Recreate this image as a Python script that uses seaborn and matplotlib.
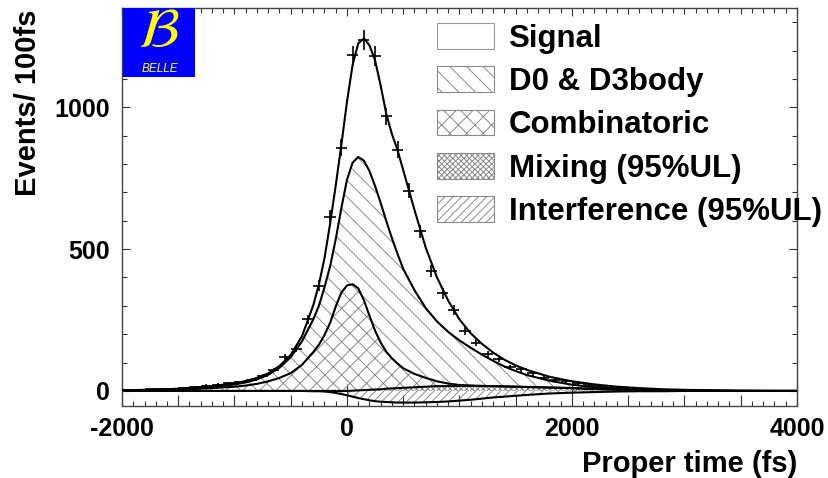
import numpy as np
import matplotlib
matplotlib.use("Agg")
import matplotlib.pyplot as plt
import seaborn as sns
from matplotlib.patches import Patch
from matplotlib.ticker import MultipleLocator, FuncFormatter

# ---------------- data ----------------
# bin centres (100 fs bins) and event counts
t_data = np.arange(-1950, 4000, 100)
n_data = [3, 4, 6, 6, 8, 10, 13, 19, 22, 27,
          31, 37, 53, 74, 119, 148, 252, 371, 614, 858,
          1183, 1238, 1180, 968, 851, 705, 563, 424, 344, 285,
          210, 170, 131, 112, 83, 77, 62, 47, 40, 35,
          27, 22, 18, 13, 10, 8, 6, 4, 3, 2,
          2, 1, 1, 1, 0, 0, 0, 0, 0, 0]

# fit curves sampled at these proper times (fs)
t_curve = [-2000, -1800, -1600, -1400, -1200, -1000, -900, -800, -700, -600,
           -500, -400, -300, -250, -200, -150, -100, -50, 0, 50,
           100, 150, 200, 250, 300, 350, 400, 450, 500, 600,
           700, 800, 900, 1000, 1100, 1200, 1300, 1400, 1500, 1600,
           1800, 2000, 2200, 2400, 2600, 2800, 3000, 3500, 4000]
total_fit = [2, 4, 6, 10, 17, 27, 35, 46, 62, 88,
             127, 193, 302, 375, 468, 590, 725, 868, 1020, 1150,
             1225, 1243, 1218, 1165, 1075, 975, 905, 848, 778, 638,
             505, 400, 318, 252, 203, 166, 135, 110, 90, 74,
             50, 34, 23, 15, 10, 6, 4, 1, 0]
d0_d3body = [1, 3, 5, 8, 14, 23, 30, 41, 57, 82,
             119, 175, 252, 300, 365, 440, 535, 645, 745, 805,
             825, 812, 775, 722, 662, 598, 538, 482, 430, 355,
             292, 245, 208, 178, 152, 128, 106, 86, 70, 56,
             36, 22, 13, 7, 4, 2, 1, 0, 0]
combinatoric = [1, 2, 4, 6, 10, 15, 19, 25, 34, 46,
                63, 92, 137, 163, 197, 240, 298, 347, 372, 376,
                362, 320, 265, 212, 170, 138, 115, 96, 80, 60,
                46, 34, 26, 21, 19, 18, 17, 16, 15, 14,
                12, 10, 7, 5, 3, 2, 1, 0, 0]
mixing = [0, 0, 0, 0, 0, 0, 0, 0, 0, 0,
          0, 0, 0, 0, 0, 0, 0, 0, 0, 1,
          2, 3, 4, 5, 6, 8, 9, 10, 11, 13,
          15, 17, 17, 18, 18, 17, 17, 16, 15, 14,
          12, 10, 7, 5, 3, 2, 1, 0, 0]
interference = [0, 0, 0, 0, 0, 0, 0, 0, 0, 0,
                0, 0, -1, -1, -2, -4, -7, -11, -15, -20,
                -25, -29, -33, -36, -38, -39, -40, -41, -41, -41,
                -40, -39, -37, -34, -31, -27, -23, -20, -17, -14,
                -9, -6, -4, -2, -1, -1, 0, 0, 0]

legend_labels = ["Signal", "D0 & D3body", "Combinatoric",
                 "Mixing (95%UL)", "Interference (95%UL)"]

# ---------------- style ----------------
sns.set_theme(style="ticks")
plt.rcParams["font.family"] = ["Liberation Sans", "DejaVu Sans"]
plt.rcParams["mathtext.fontset"] = "stix"
plt.rcParams["hatch.color"] = "#8a8a8a"
plt.rcParams["hatch.linewidth"] = 0.7
plt.rcParams["text.color"] = "black"
plt.rcParams["axes.labelcolor"] = "black"
plt.rcParams["xtick.labelcolor"] = "black"
plt.rcParams["ytick.labelcolor"] = "black"

HC = "#8a8a8a"
fig = plt.figure(figsize=(8.29, 4.78), dpi=100)
ax = fig.add_axes([122 / 829, 1 - 405.7 / 478, 675 / 829, 397.7 / 478])

t_c = np.array(t_curve, dtype=float)
tot = np.array(total_fit, float)
d0 = np.array(d0_d3body, float)
cb = np.array(combinatoric, float)
mx = np.array(mixing, float)
it = np.array(interference, float)

# hatched components
ax.fill_between(t_c, cb, d0, facecolor="none", edgecolor=HC, hatch="\\\\", linewidth=0)
ax.fill_between(t_c, 0, cb, facecolor="none", edgecolor=HC, hatch="xx", linewidth=0)
ax.fill_between(t_c, 0, mx, facecolor="none", edgecolor=HC, hatch="xxxxxx", linewidth=0)
ax.fill_between(t_c, it, 0, facecolor="none", edgecolor=HC, hatch="////", linewidth=0)

# curves
for yv in (tot, d0, cb, mx, it):
    sns.lineplot(x=t_c, y=yv, ax=ax, color="black", linewidth=1.5, legend=False,
                 sort=False, estimator=None)

# data points
nd = np.array(n_data, float)
ax.errorbar(t_data, nd, xerr=50, yerr=np.sqrt(nd), fmt="none",
            ecolor="black", elinewidth=1.2, capsize=0, zorder=5)

ax.set_xlim(-2000, 4000)
ax.set_ylim(-52, 1350)

# ticks
ax.xaxis.set_major_locator(MultipleLocator(500))
ax.xaxis.set_minor_locator(MultipleLocator(100))
ax.xaxis.set_major_formatter(FuncFormatter(lambda v, p: f"{int(v)}" if abs(v) % 2000 == 0 else ""))
ax.yaxis.set_major_locator(MultipleLocator(500))
ax.yaxis.set_minor_locator(MultipleLocator(100))
ax.tick_params(which="both", direction="in", top=True, right=True,
               color="#333333", width=0.8)
ax.tick_params(axis="y", which="major", length=5.8, pad=8.5)
ax.tick_params(axis="y", which="minor", length=3.6)
ax.tick_params(axis="x", which="major", pad=8)
ax.tick_params(axis="x", which="minor", length=3.6)
for lab in ax.get_xticklabels() + ax.get_yticklabels():
    lab.set_fontsize(18)
    lab.set_fontweight("bold")
    lab.set_color("black")
for tick, loc in zip(ax.xaxis.get_major_ticks(), ax.xaxis.get_majorticklocs()):
    if abs(loc) % 2000 == 0:
        tick.tick1line.set_markersize(15.8)
        tick.tick2line.set_markersize(6)
    else:
        tick.tick1line.set_markersize(8)
        tick.tick2line.set_markersize(4)
for s in ax.spines.values():
    s.set_color("#444444")
    s.set_linewidth(1.0)
ax.set_xlabel("")
ax.set_ylabel("")

fig.text(28 / 829, 1 - 10 / 478, "Events/ 100fs", rotation=90, ha="center", va="top",
         fontsize=21, fontweight="bold", color="black")
fig.text(797 / 829, 1 - 471.7 / 478, "Proper time (fs)", ha="right", va="baseline",
         fontsize=21, fontweight="bold", color="black")

# legend
handles = [
    Patch(facecolor="white", edgecolor="#999999", linewidth=0.8),
    Patch(facecolor="white", edgecolor=HC, hatch="\\\\", linewidth=0.8),
    Patch(facecolor="white", edgecolor=HC, hatch="xx", linewidth=0.8),
    Patch(facecolor="white", edgecolor=HC, hatch="xxxxxx", linewidth=0.8),
    Patch(facecolor="white", edgecolor=HC, hatch="////", linewidth=0.8),
]
leg = ax.legend(handles, legend_labels, loc="upper left",
                bbox_to_anchor=(437 / 829, 1 - 23 / 478), bbox_transform=fig.transFigure,
                frameon=False, borderpad=0, borderaxespad=0,
                handlelength=1.82, handleheight=0.9, handletextpad=0.47,
                labelspacing=0.40, prop={"weight": "bold", "size": 22.5})
for txt in leg.get_texts():
    txt.set_color("black")

# Belle logo
lax = fig.add_axes([123 / 829, 1 - 77 / 478, 72 / 829, 69 / 478])
lax.set_facecolor("#0000ff")
lax.set_xticks([])
lax.set_yticks([])
for s in lax.spines.values():
    s.set_visible(False)
lax.text(0.5, 0.64, r"$\mathcal{B}$", color="#ffff00", fontsize=40,
         ha="center", va="center", transform=lax.transAxes)
lax.text(0.52, 0.12, "BELLE", color="#ffff00", fontsize=8.5, style="italic",
         ha="center", va="center", transform=lax.transAxes)

fig.savefig("out.png", dpi=100)
